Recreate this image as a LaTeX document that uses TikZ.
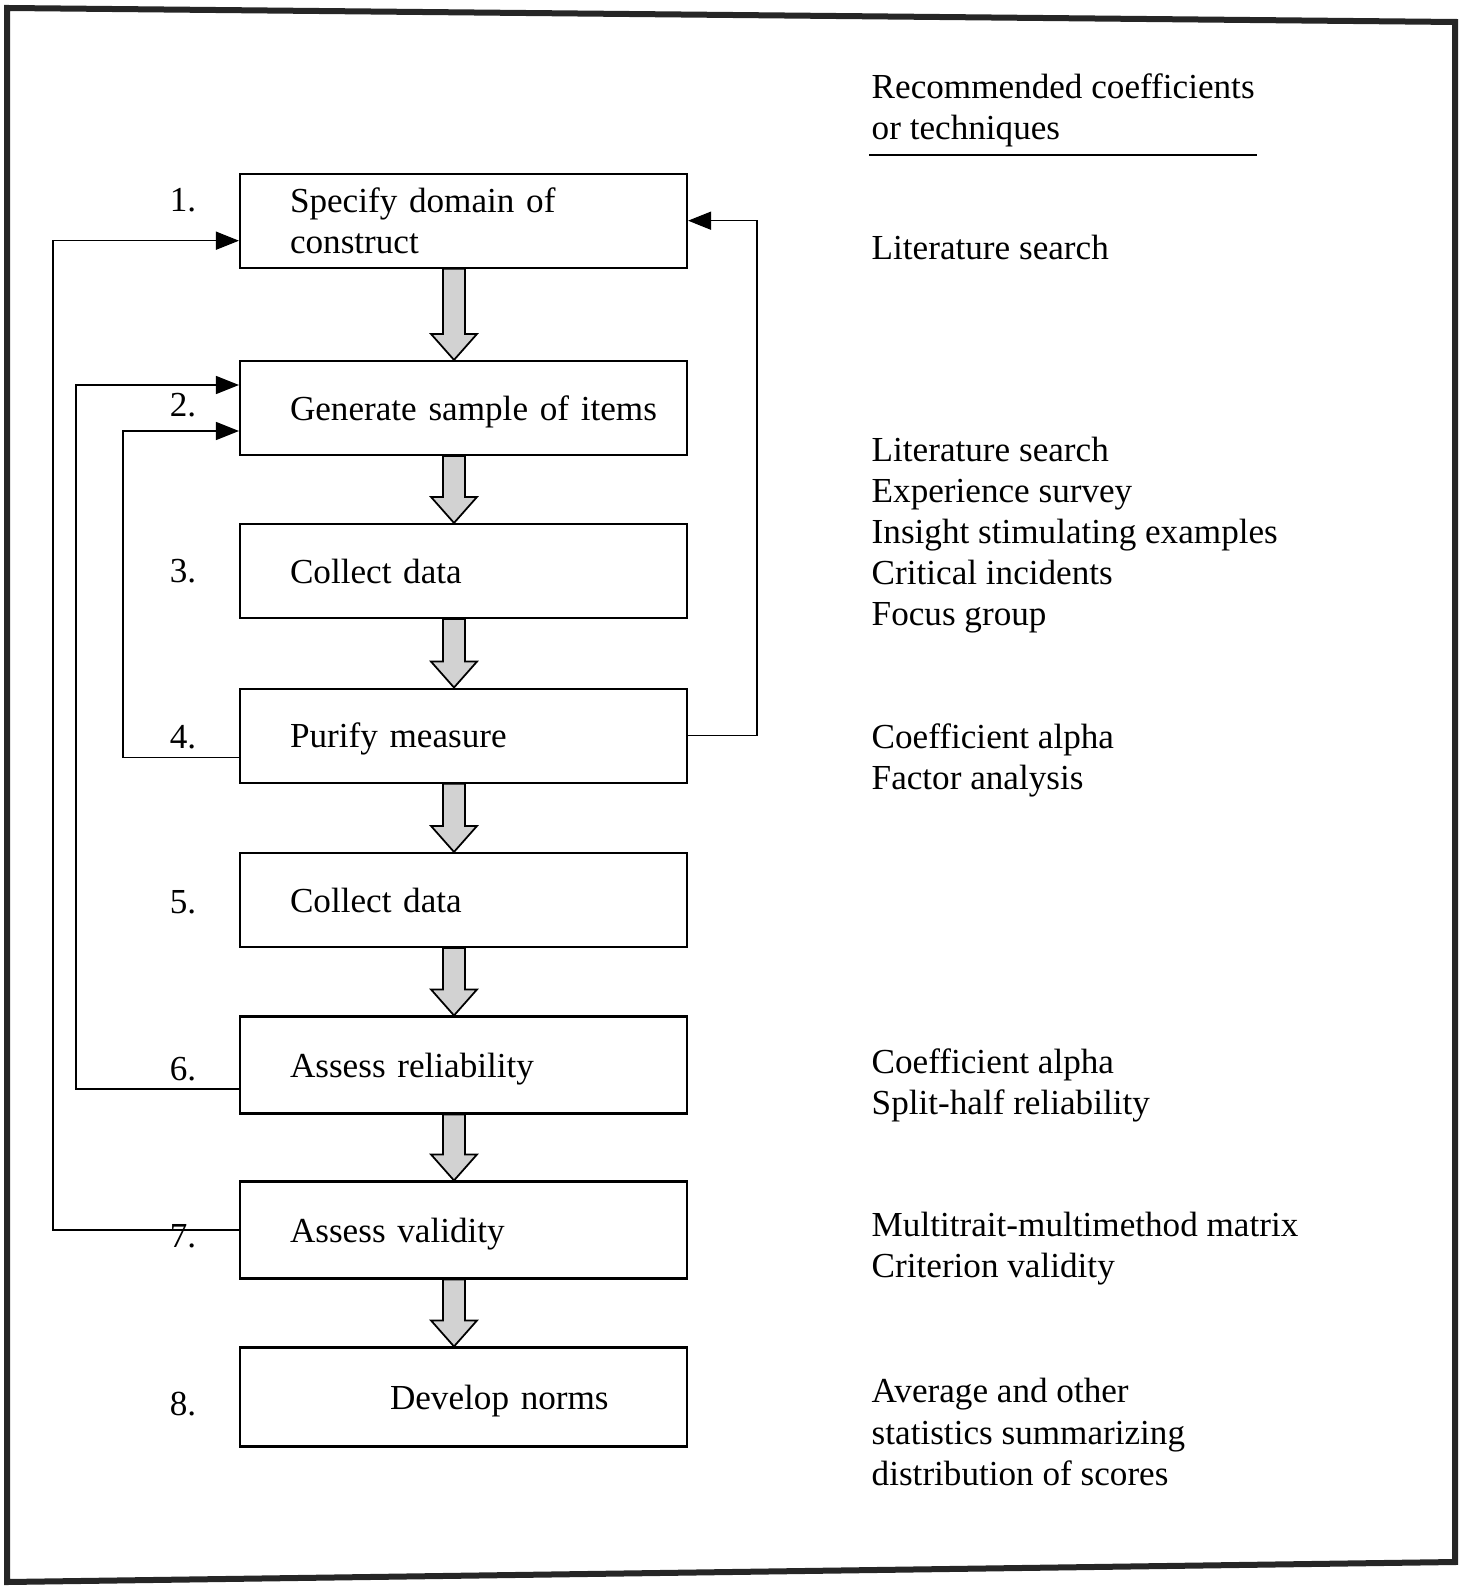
\documentclass[tikz,border=0pt]{standalone}
\usepackage{fontspec}
\setmainfont{Liberation Serif}
\usetikzlibrary{positioning}
\usetikzlibrary{arrows.meta}
\usetikzlibrary{calc}

\tikzset{
  stage/.style={draw, rectangle, line width=0.6pt, minimum width=4.47cm, minimum height=0.94cm, text width=4.27cm, inner xsep=0.1cm, align=left, execute at begin node={\leftskip=0.4cm\relax}, font=\fontsize{10}{11.8}\selectfont},
  oneline/.style={text depth=0pt},
  num/.style={font=\fontsize{10}{12}\selectfont},
  note/.style={anchor=west, align=left, inner sep=0pt, font=\fontsize{10}{11.7}\selectfont},
  feedback/.style={line width=0.45pt, -{Triangle[length=2.3mm, width=1.8mm]}},
  blockarrow/.style={draw, line width=0.5pt, fill=gray!35},
}

\begin{document}
\begin{tikzpicture}
			\useasboundingbox (0,0) rectangle (14.63,-15.89);
			% page frame
			\draw[line width=0.6mm, black!85] (0.07,-0.08) -- (14.55,-0.22) -- (14.55,-15.62) -- (0.07,-15.82) -- cycle;

			% stages
			\node[stage] (b1) at (4.635,-2.207) {Specify domain of\\construct};
			\node[stage, oneline] (b2) at (4.635,-4.08) {Generate sample of items};
			\node[stage, oneline] (b3) at (4.635,-5.71) {Collect data};
			\node[stage, oneline] (b4) at (4.635,-7.356) {Purify measure};
			\node[stage, oneline] (b5) at (4.635,-9.00) {Collect data};
			\node[stage, oneline, minimum height=0.97cm] (b6) at (4.635,-10.65) {Assess reliability};
			\node[stage, oneline, minimum height=0.97cm] (b7) at (4.635,-12.30) {Assess validity};
			\node[stage, oneline, minimum height=0.99cm] (b8) at (4.635,-13.97) {\hspace*{1.0cm}Develop norms};

			% step numbers
			\node[num] (n1) at (1.83,-2.00) {1.};
			\node[num] (n2) at (1.83,-4.05) {2.};
			\node[num] (n3) at (1.83,-5.71) {3.};
			\node[num] (n4) at (1.83,-7.37) {4.};
			\node[num] (n5) at (1.83,-9.02) {5.};
			\node[num] (n6) at (1.83,-10.69) {6.};
			\node[num] (n7) at (1.83,-12.36) {7.};
			\node[num] (n8) at (1.83,-14.04) {8.};

			% down arrows
			\coordinate (ax) at (4.54,0);
			\foreach \a/\b in {b1/b2,b2/b3,b3/b4,b4/b5,b5/b6,b6/b7,b7/b8} {
				\path (\a.south -| ax) coordinate (s) (\b.north -| ax) coordinate (t);
				\draw[blockarrow] ($(s)+(-0.11,0)$) -- ($(t)+(-0.11,0.26)$) -- ($(t)+(-0.23,0.26)$) -- (t) -- ($(t)+(0.23,0.26)$) -- ($(t)+(0.11,0.26)$) -- ($(s)+(0.11,0)$) -- cycle;
			}

			% feedback loops
			\draw[feedback] (b7.west) -- ++(-1.86,0) |- ([yshift=-2mm]b1.west);
			\draw[feedback] ([yshift=-2.4mm]b6.west) -- ++(-1.63,0) |- ([yshift=2.3mm]b2.west);
			\draw[feedback] ([yshift=-2.2mm]b4.west) -- ++(-1.16,0) |- ([yshift=-2.3mm]b2.west);
			\draw[feedback] (b4.east) -- ++(0.69,0) |- (b1.east);

			% right column
			\node[note] (head) at (8.71,-1.10) {Recommended coefficients\\or techniques};
			\draw[line width=0.6pt] (8.69,-1.55) -- (12.57,-1.55);
			\node[note] (t1) at (8.71,-2.47) {Literature search};
			\node[note] (t2) at (8.71,-5.35) {Literature search\\Experience survey\\Insight stimulating examples\\Critical incidents\\Focus group};
			\node[note] (t4) at (8.71,-7.60) {Coefficient alpha\\Factor analysis};
			\node[note] (t6) at (8.71,-10.85) {Coefficient alpha\\Split-half reliability};
			\node[note] (t7) at (8.71,-12.49) {Multitrait-multimethod matrix\\Criterion validity};
			\node[note] (t8) at (8.71,-14.32) {Average and other\\statistics summarizing\\distribution of scores};
		\end{tikzpicture}
\end{document}
